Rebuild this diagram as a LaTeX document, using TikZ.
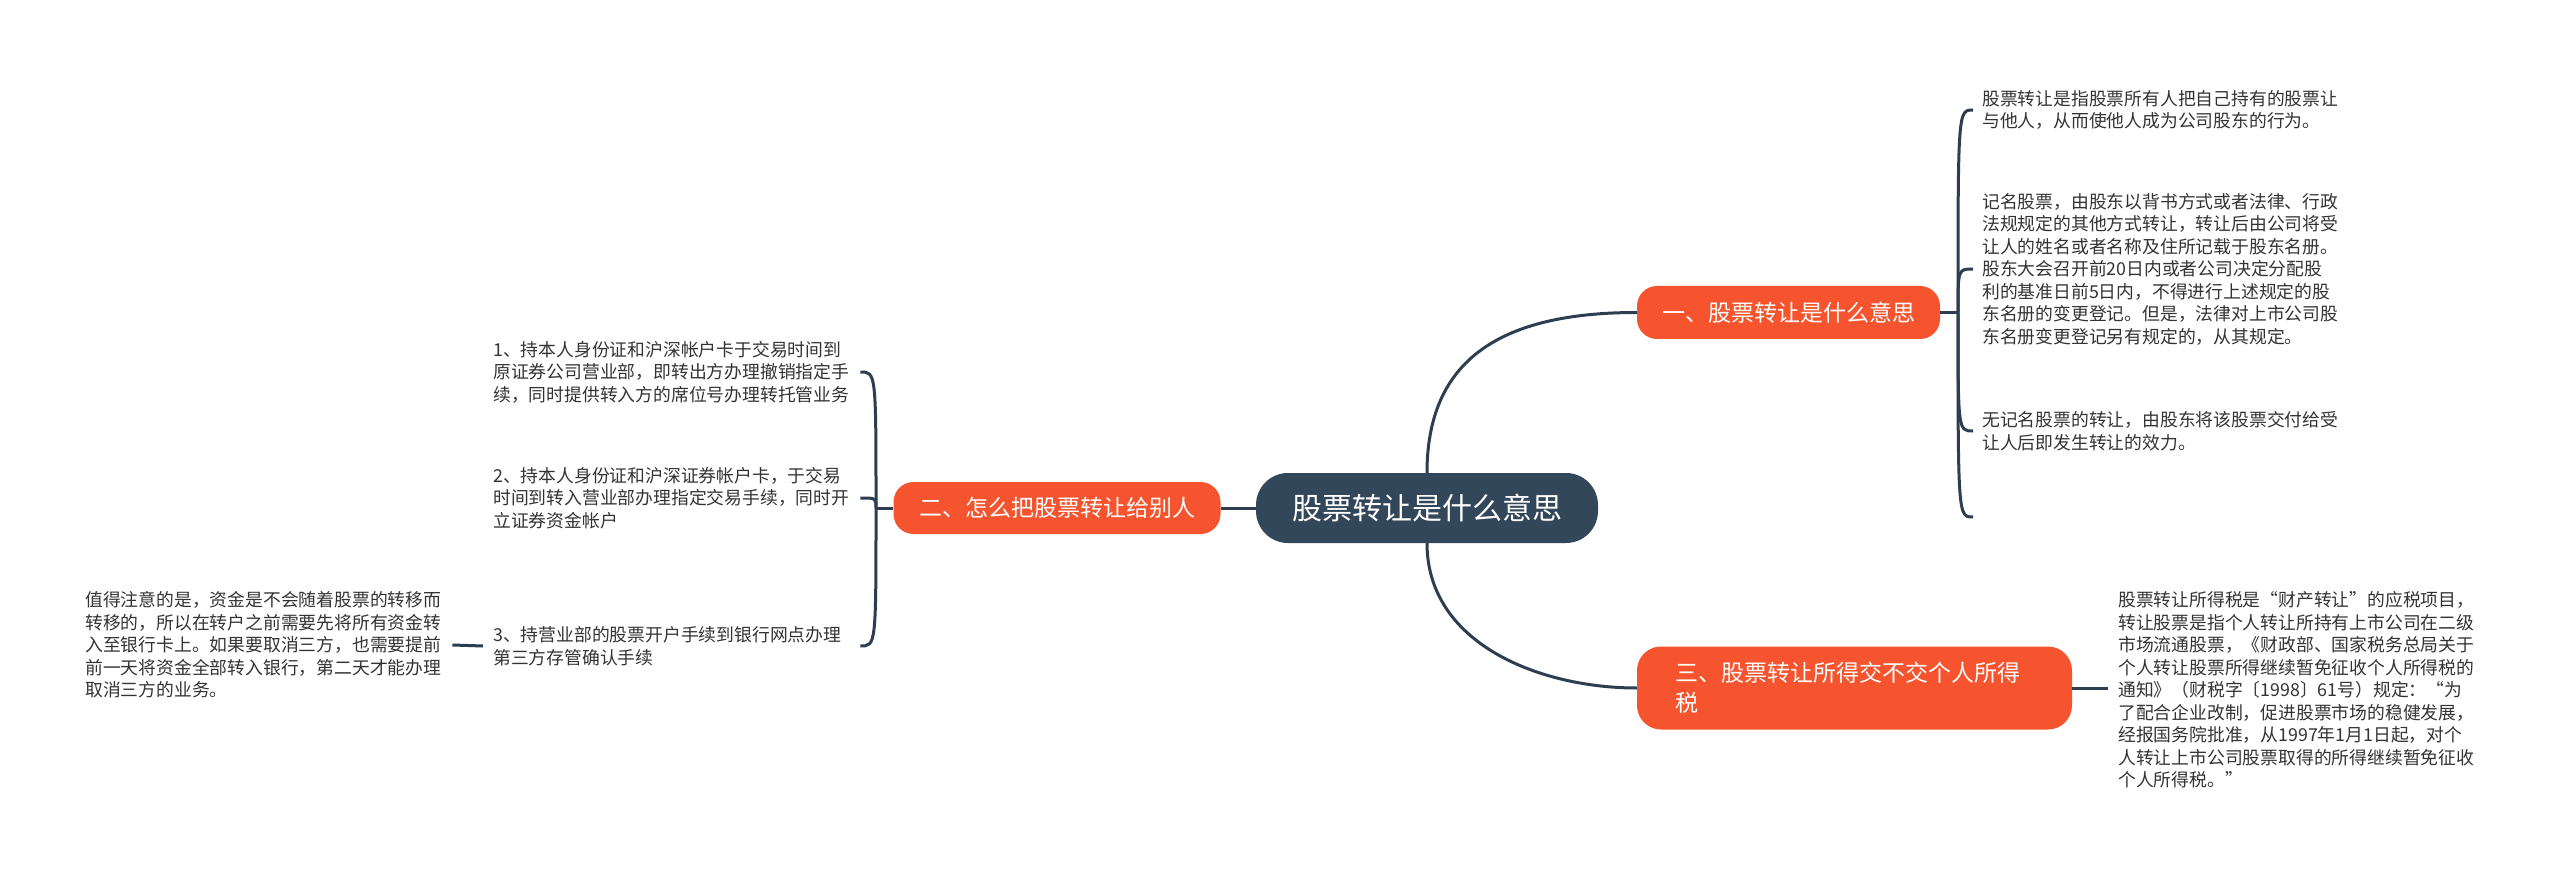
\documentclass[tikz,border=0pt]{standalone}
\usepackage{fontspec}
\setmainfont{Noto Sans CJK SC}
\definecolor{linec}{HTML}{2C3E50}
\definecolor{centerc}{HTML}{33475B}
\definecolor{orangec}{HTML}{F5542E}
\definecolor{textc}{HTML}{333333}
\tikzset{
  conn/.style={draw=linec, line width=3pt},
  centerbox/.style={fill=centerc, rounded corners=32pt, minimum width=342pt, minimum height=70pt,
    inner sep=0pt, text=white, font=\fontsize{30}{36}\selectfont},
  branchbox/.style={fill=orangec, rounded corners=20pt, minimum height=53pt,
    inner sep=0pt, text=white, font=\fontsize{23}{30}\selectfont},
  leaf/.style={font=\fontsize{17.8}{22.5}\selectfont, text=textc, align=left,
    text width=357pt, inner xsep=9pt, inner ysep=0pt, anchor=west},
}
\begin{document}
\begin{tikzpicture}[x=1pt,y=-1pt]
\useasboundingbox (0,0) rectangle (2560,877);
\fill[white] (0,0) rectangle (2560,877);

% central and branches
\node[centerbox] (C) at (1427,508) {股票转让是什么意思};
\node[branchbox, minimum width=303pt] (B1) at (1788.5,312.5) {一、股票转让是什么意思};
\node[branchbox, minimum width=327pt, minimum height=52pt] (B2) at (1057,508) {二、怎么把股票转让给别人};
\node[branchbox, rounded corners=24pt, inner xsep=38pt, minimum height=83pt, align=left, text width=359pt] (B3) at (1854.5,688) {三、股票转让所得交不交个人所得\\税};

% right leaves of branch 1
\node[leaf] (R1) at (1973,110) {股票转让是指股票所有人把自己持有的股票让\\与他人，从而使他人成为公司股东的行为。};
\node[leaf] (R2) at (1973,269) {记名股票，由股东以背书方式或者法律、行政\\法规规定的其他方式转让，转让后由公司将受\\让人的姓名或者名称及住所记载于股东名册。\\股东大会召开前20日内或者公司决定分配股\\利的基准日前5日内，不得进行上述规定的股\\东名册的变更登记。但是，法律对上市公司股\\东名册变更登记另有规定的，从其规定。};
\node[leaf] (R3) at (1973,431) {无记名股票的转让，由股东将该股票交付给受\\让人后即发生转让的效力。};
\coordinate (Rend) at (1973,517);

% leaf of branch 3
\node[leaf, inner xsep=10pt] (R4) at (2108,690) {股票转让所得税是“财产转让”的应税项目，\\转让股票是指个人转让所持有上市公司在二级\\市场流通股票，《财政部、国家税务总局关于\\个人转让股票所得继续暂免征收个人所得税的\\通知》（财税字〔1998〕61号）规定：“为\\了配合企业改制，促进股票市场的稳健发展，\\经报国务院批准，从1997年1月1日起，对个\\人转让上市公司股票取得的所得继续暂免征收\\个人所得税。”};

% left leaves of branch 2
\node[leaf, inner xsep=10pt] (L1) at (483,372) {1、持本人身份证和沪深帐户卡于交易时间到\\原证券公司营业部，即转出方办理撤销指定手\\续，同时提供转入方的席位号办理转托管业务};
\node[leaf, inner xsep=10pt] (L2) at (483,498) {2、持本人身份证和沪深证券帐户卡，于交易\\时间到转入营业部办理指定交易手续，同时开\\立证券资金帐户};
\node[leaf, inner xsep=10pt] (L3) at (483,646) {3、持营业部的股票开户手续到银行网点办理\\第三方存管确认手续};
\node[leaf, inner xsep=10pt] (L4) at (75,645) {值得注意的是，资金是不会随着股票的转移而\\转移的，所以在转户之前需要先将所有资金转\\入至银行卡上。如果要取消三方，也需要提前\\前一天将资金全部转入银行，第二天才能办理\\取消三方的业务。};

% junctions
\coordinate (jR) at (1958,312.5);
\coordinate (jL) at (876,508);

% main connectors
\draw[conn] (C.north) .. controls (1427,360) and (1500,312.5) .. (B1.west);
\draw[conn] (C.south) .. controls (1427,644) and (1540,688) .. (B3.west);
\draw[conn] (C.west) -- (B2.east);

% branch 1 bracket
\draw[conn] (B1.east) -- (jR);
\draw[conn] (jR) .. controls (1958,110) .. (R1.west);
\draw[conn] (jR) .. controls (1958,269) .. (R2.west);
\draw[conn] (jR) .. controls (1958,431) .. (R3.west);
\draw[conn] (jR) .. controls (1958,517) .. (Rend);

% branch 3
\draw[conn] (B3.east) -- (R4.west |- B3.east);

% branch 2 bracket
\draw[conn] (B2.west) -- (jL);
\draw[conn] (jL) .. controls (876,372) .. (L1.east);
\draw[conn] (jL) .. controls (876,498) .. (L2.east);
\draw[conn] (jL) .. controls (876,646) .. (L3.east);
\draw[conn] (L3.west) -- (L4.east);
\end{tikzpicture}
\end{document}
